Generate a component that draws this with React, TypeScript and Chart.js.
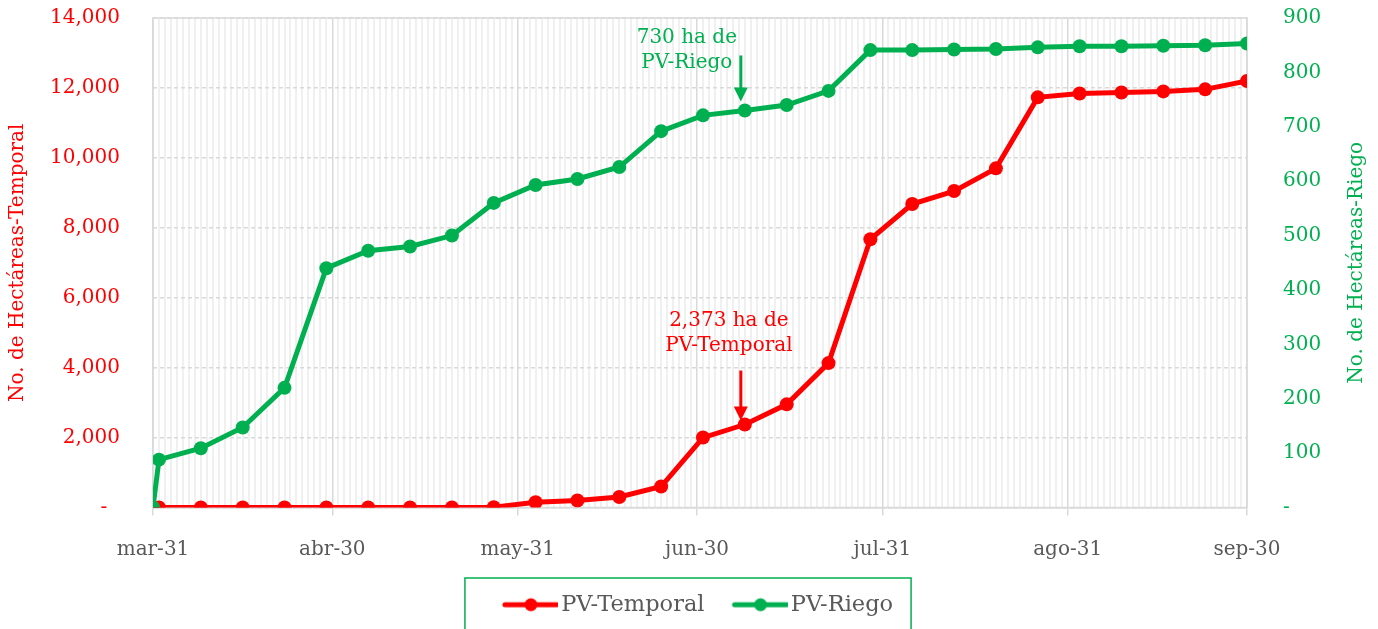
import React, { useEffect, useRef } from "react";
import { Chart, registerables } from "chart.js";

Chart.register(...registerables);

// Day offsets from mar-31
const days = [0, 1, 8, 15, 22, 29, 36, 43, 50, 57, 64, 71, 78, 85, 92, 99, 106, 113, 120, 127, 134, 141, 148, 155, 162, 169, 176, 183];
const temporal = [0, 0, 0, 0, 0, 0, 0, 0, 0, 10, 150, 200, 300, 600, 2000, 2373, 2950, 4130, 7670, 8680, 9050, 9700, 11730, 11840, 11870, 11900, 11960, 12200];
const riego = [0, 88, 109, 147, 220, 440, 472, 480, 500, 560, 593, 604, 626, 692, 721, 730, 740, 766, 841, 841, 842, 843, 846, 848, 848, 849, 850, 853];
const monthTickDays = [0, 30, 61, 91, 122, 153, 183];
const monthTickLabels = ["mar-31", "abr-30", "may-31", "jun-30", "jul-31", "ago-31", "sep-30"];

const annotations = [
  { dataset: 1, day: 99, value: 730, lines: ["730 ha de", "PV-Riego"], color: "#00B050", dx: -58, dy1: -73, dy2: -48, a0: -55, a1: -9 },
  { dataset: 0, day: 99, value: 2373, lines: ["2,373 ha de", "PV-Temporal"], color: "#FF0000", dx: -16, dy1: -104, dy2: -79, a0: -54, a1: -4 },
];

const RED = "#FF0000";
const GREEN = "#00B050";
const FONT = "'DejaVu Serif', serif";
const RIGHT_TITLE = "No. de Hectáreas-Riego";

function legendIcon(color: string) {
  const c = document.createElement("canvas");
  c.width = 81;
  c.height = 16;
  const g = c.getContext("2d")!;
  g.strokeStyle = color;
  g.lineWidth = 5;
  g.lineCap = "round";
  g.beginPath();
  g.moveTo(28, 8);
  g.lineTo(80, 8);
  g.stroke();
  g.fillStyle = color;
  g.beginPath();
  g.arc(54, 8, 6.5, 0, Math.PI * 2);
  g.fill();
  return c;
}

export default function App() {
  const ref = useRef<HTMLCanvasElement | null>(null);
  useEffect(() => {
    document.body.style.margin = "0";
    const canvas = ref.current!;
    const framePlugin = {
      id: "frame",
      beforeDatasetsDraw(chart: any) {
        const { ctx, chartArea: a } = chart;
        ctx.save();
        ctx.strokeStyle = "#d9d9d9";
        ctx.lineWidth = 1.5;
        ctx.strokeRect(a.left, a.top, a.right - a.left, a.bottom - a.top);
        ctx.restore();
      },
      afterDraw(chart: any) {
        const { ctx, chartArea: a } = chart;
        const xs = chart.scales.x;
        for (const an of annotations) {
          const ys = an.dataset === 0 ? chart.scales.y : chart.scales.y1;
          const px = xs.getPixelForValue(an.day);
          const py = ys.getPixelForValue(an.value);
          ctx.save();
          ctx.fillStyle = an.color;
          ctx.strokeStyle = an.color;
          ctx.font = `20px ${FONT}`;
          ctx.textAlign = "center";
          ctx.textBaseline = "middle";
          ctx.fillText(an.lines[0], px + an.dx, py + an.dy1);
          ctx.fillText(an.lines[1], px + an.dx, py + an.dy2);
          ctx.lineWidth = 3;
          ctx.beginPath();
          ctx.moveTo(px - 4, py + an.a0);
          ctx.lineTo(px - 4, py + an.a1 - 12);
          ctx.stroke();
          ctx.beginPath();
          ctx.moveTo(px - 11, py + an.a1 - 14);
          ctx.lineTo(px + 3, py + an.a1 - 14);
          ctx.lineTo(px - 4, py + an.a1);
          ctx.closePath();
          ctx.fill();
          ctx.restore();
        }
        // right axis title, reading bottom-to-top
        const y1 = chart.scales.y1;
        ctx.save();
        ctx.translate(y1.right - 21, (a.top + a.bottom) / 2);
        ctx.rotate(-Math.PI / 2);
        ctx.fillStyle = GREEN;
        ctx.font = `20px ${FONT}`;
        ctx.textAlign = "center";
        ctx.textBaseline = "middle";
        ctx.fillText(RIGHT_TITLE, 0, 0);
        ctx.restore();
        // legend border
        const lg = chart.legend;
        if (lg && lg.legendHitBoxes && lg.legendHitBoxes.length) {
          let l = Infinity, r = -Infinity;
          for (const h of lg.legendHitBoxes) {
            l = Math.min(l, h.left);
            r = Math.max(r, h.left + h.width);
          }
          ctx.save();
          ctx.strokeStyle = GREEN;
          ctx.lineWidth = 1.5;
          ctx.strokeRect(l - 20, 578, r - l + 38, 80);
          ctx.restore();
        }
      },
    };

    const chart = new Chart(canvas, {
      type: "line",
      data: {
        datasets: [
          {
            label: "PV-Temporal",
            data: days.map((d, i) => ({ x: d, y: temporal[i] })),
            borderColor: RED,
            backgroundColor: RED,
            borderWidth: 5,
            pointRadius: 7,
            pointHoverRadius: 7,
            pointBackgroundColor: RED,
            pointBorderWidth: 0,
            yAxisID: "y",
            order: 2,
            pointStyle: "circle",
          },
          {
            label: "PV-Riego",
            data: days.map((d, i) => ({ x: d, y: riego[i] })),
            borderColor: GREEN,
            backgroundColor: GREEN,
            borderWidth: 5,
            pointRadius: 7,
            pointHoverRadius: 7,
            pointBackgroundColor: GREEN,
            pointBorderWidth: 0,
            yAxisID: "y1",
            order: 1,
            pointStyle: "circle",
          },
        ],
      },
      options: {
        animation: false,
        responsive: false,
        maintainAspectRatio: false,
        layout: { padding: { top: 18, bottom: 3, left: 0, right: 0 } },
        plugins: {
          tooltip: { enabled: false },
          legend: {
            position: "bottom",
            labels: {
              usePointStyle: true,
              pointStyleWidth: 65,
              color: "#595959",
              font: { family: FONT, size: 22.5 },
              padding: 10,
              sort: (a: any, b: any) => a.datasetIndex - b.datasetIndex,
              generateLabels: (ch: any) =>
                ch.data.datasets.map((ds: any, i: number) => ({
                  text: ds.label,
                  datasetIndex: i,
                  pointStyle: legendIcon(ds.borderColor),
                  fillStyle: ds.borderColor,
                  strokeStyle: ds.borderColor,
                  lineWidth: 0,
                  hidden: false,
                  fontColor: "#595959",
                })),
            },
          },
        },
        scales: {
          x: {
            type: "linear",
            min: 0,
            max: 183,
            afterFit: (s: any) => {
              s.height = 76;
            },
            ticks: {
              stepSize: 1,
              autoSkip: false,
              maxRotation: 0,
              minRotation: 0,
              padding: 22,
              color: "#595959",
              font: { family: FONT, size: 20 },
              callback: (v: any) => {
                const i = monthTickDays.indexOf(Number(v));
                return i >= 0 ? monthTickLabels[i] : "";
              },
            },
            grid: {
              color: (c: any) => (monthTickDays.includes(c.tick?.value) ? "#d9d9d9" : "#f0f0f0"),
              lineWidth: (c: any) => (monthTickDays.includes(c.tick?.value) ? 1.5 : 2),
              tickColor: (c: any) => (monthTickDays.includes(c.tick?.value) ? "#d9d9d9" : "rgba(0,0,0,0)"),
              tickLength: 8,
            },
            border: { display: true, color: "#d9d9d9", width: 1.5 },
          },
          y: {
            position: "left",
            min: 0,
            max: 14000,
            afterFit: (s: any) => {
              s.width = 153;
            },
            ticks: {
              stepSize: 2000,
              padding: 0,
              color: RED,
              font: { family: FONT, size: 20 },
              callback: (v: any) => (Number(v) === 0 ? "-  " : Number(v).toLocaleString("en-US")),
            },
            grid: { color: "#d9d9d9", lineWidth: 1.5, drawTicks: true, tickLength: 33, tickColor: "rgba(0,0,0,0)" },
            border: { display: false, dash: [4, 3] },
            title: {
              display: true,
              text: "No. de Hectáreas-Temporal",
              color: RED,
              font: { family: FONT, size: 20 },
              padding: { top: 6, bottom: 0 },
            },
          },
          y1: {
            position: "right",
            min: 0,
            max: 900,
            afterFit: (s: any) => {
              s.width = 131;
            },
            ticks: {
              stepSize: 100,
              padding: 0,
              color: GREEN,
              font: { family: FONT, size: 20 },
              callback: (v: any) => (Number(v) === 0 ? "-" : String(v)),
            },
            grid: { drawOnChartArea: false, drawTicks: true, tickLength: 36, tickColor: "rgba(0,0,0,0)" },
            border: { display: false },
            title: { display: false },
          },
        },
      },
      plugins: [framePlugin],
    } as any);
    return () => chart.destroy();
  }, []);
  return (
    <div style={{ width: 1378, height: 629 }}>
      <canvas ref={ref} width={1378} height={629} style={{ display: "block" }} />
    </div>
  );
}
